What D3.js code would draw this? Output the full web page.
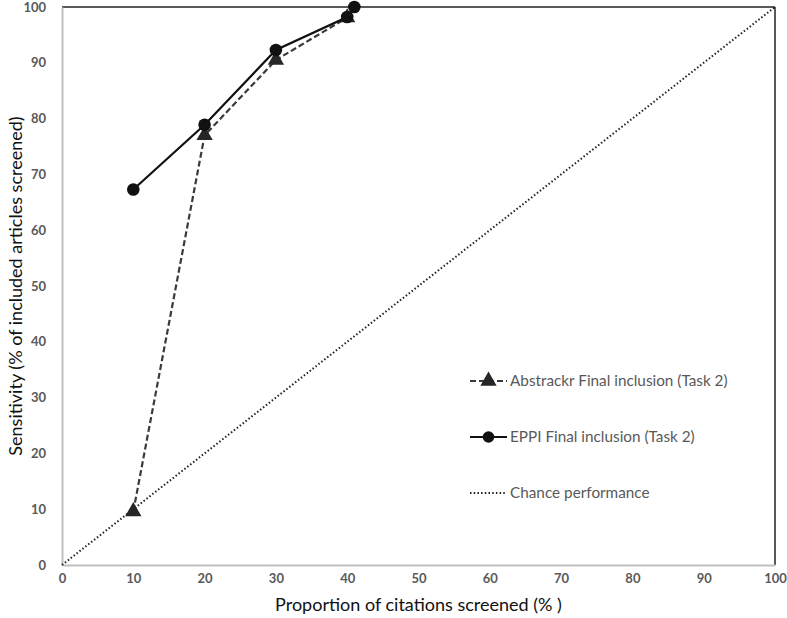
<!DOCTYPE html>
<html><head><meta charset="utf-8">
<script src="https://cdn.jsdelivr.net/npm/d3@7"></script>
<style>body{margin:0;background:#fff}svg{display:block}</style>
</head><body>
<script>
const xTicks = [0,10,20,30,40,50,60,70,80,90,100];
const yTicks = [0,10,20,30,40,50,60,70,80,90,100];
const abstrackrX = [10,20,30,40];
const abstrackrY = [9.6,77.0,90.5,98.1];
const eppiX = [10,20,30,40,41];
const eppiY = [67.3,78.9,92.3,98.2,100];
const chanceX = [0,100];
const chanceY = [0,100];
const legendLabels = ["Abstrackr Final inclusion (Task 2)","EPPI Final inclusion (Task 2)","Chance performance"];

const W=787,H=618;
const m={l:62,r:12,t:7,b:53};
const svg=d3.select("body").append("svg").attr("width",W).attr("height",H);
const x=d3.scaleLinear().domain([0,100]).range([m.l,W-m.r]);
const y=d3.scaleLinear().domain([0,100]).range([H-m.b,m.t]);
const font="Lato, 'Open Sans', sans-serif";

// borders
svg.append("line").attr("x1",x(0)).attr("x2",x(100)).attr("y1",y(100)).attr("y2",y(100)).attr("stroke","#222").attr("stroke-width",1.5);
svg.append("line").attr("x1",x(100)).attr("x2",x(100)).attr("y1",y(100)).attr("y2",y(0)).attr("stroke","#222").attr("stroke-width",1.5);

// axes
const xa=svg.append("g").attr("transform",`translate(0,${y(0)})`).call(d3.axisBottom(x).tickValues(xTicks).tickSize(0).tickPadding(9));
const ya=svg.append("g").attr("transform",`translate(${x(0)},0)`).call(d3.axisLeft(y).tickValues(yTicks).tickSize(0).tickPadding(16));
[xa,ya].forEach(a=>{
  a.select(".domain").attr("stroke","#bfbfbf").attr("stroke-width",2);
  a.selectAll("text").attr("font-family",font).attr("font-size",13).attr("font-weight","bold").attr("fill","#595959");
});

// chance line
const line=d3.line().x(d=>x(d[0])).y(d=>y(d[1]));
svg.append("path").datum(chanceX.map((v,i)=>[v,chanceY[i]])).attr("d",line).attr("fill","none").attr("stroke","#222").attr("stroke-width",2).attr("stroke-dasharray","1.5,2.2");

// abstrackr
const aData=abstrackrX.map((v,i)=>[v,abstrackrY[i]]);
svg.append("path").datum(aData).attr("d",line).attr("fill","none").attr("stroke","#3a3a3a").attr("stroke-width",2.2).attr("stroke-dasharray","6,3");
const tri=d3.symbol().type(d3.symbolTriangle).size(115);
svg.selectAll(".tri").data(aData).enter().append("path").attr("d",tri).attr("transform",d=>`translate(${x(d[0])},${y(d[1])})`).attr("fill","#262626");

// eppi
const eData=eppiX.map((v,i)=>[v,eppiY[i]]);
svg.append("path").datum(eData).attr("d",line).attr("fill","none").attr("stroke","#111").attr("stroke-width",2.2);
svg.selectAll(".circ").data(eData).enter().append("circle").attr("cx",d=>x(d[0])).attr("cy",d=>y(d[1])).attr("r",6.3).attr("fill","#111");

// legend
const lg=svg.append("g");
const ly=[381,437,493], lx0=470, lx1=507;
legendLabels.forEach((t,i)=>{
  const g=lg.append("g");
  if(i===0){
    g.append("line").attr("x1",lx0).attr("x2",lx1).attr("y1",ly[i]).attr("y2",ly[i]).attr("stroke","#3a3a3a").attr("stroke-width",2.2).attr("stroke-dasharray","6,3");
    g.append("path").attr("d",tri).attr("transform",`translate(${(lx0+lx1)/2},${ly[i]})`).attr("fill","#262626");
  } else if(i===1){
    g.append("line").attr("x1",lx0).attr("x2",lx1).attr("y1",ly[i]).attr("y2",ly[i]).attr("stroke","#111").attr("stroke-width",2.2);
    g.append("circle").attr("cx",(lx0+lx1)/2).attr("cy",ly[i]).attr("r",5.8).attr("fill","#111");
  } else {
    g.append("line").attr("x1",lx0).attr("x2",lx1).attr("y1",ly[i]).attr("y2",ly[i]).attr("stroke","#222").attr("stroke-width",2).attr("stroke-dasharray","1.5,2.2");
  }
  g.append("text").attr("x",lx1+3).attr("y",ly[i]).attr("dy","0.35em").attr("font-family",font).attr("font-size",15.3).attr("fill","#595959").text(t);
});

// titles
svg.append("text").attr("x",(x(0)+x(100))/2).attr("y",611).attr("text-anchor","middle").attr("font-family",font).attr("font-size",18).attr("fill","#111").text("Proportion of citations screened (% )");
svg.append("text").attr("transform",`translate(22,${(y(0)+y(100))/2}) rotate(-90)`).attr("text-anchor","middle").attr("font-family",font).attr("font-size",18).attr("fill","#111").text("Sensitivity (% of included articles screened)");
</script>
</body></html>
